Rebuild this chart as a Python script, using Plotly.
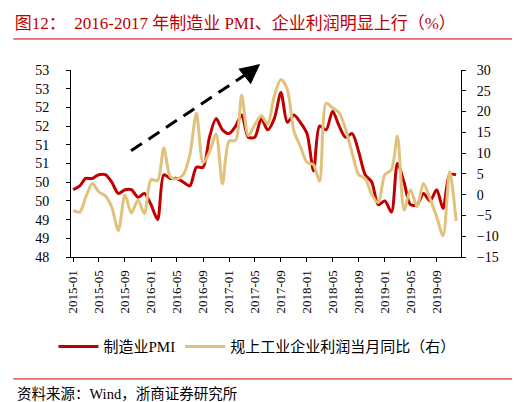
import plotly.graph_objects as go
import pandas as pd

months = pd.date_range("2015-01-01", "2019-12-01", freq="MS")

# 制造业PMI (left axis)
pmi = [49.8, 49.9, 50.1, 50.1, 50.2, 50.2, 50.0, 49.7, 49.8, 49.8, 49.6, 49.7,
       49.4, 49.0, 50.2, 50.1, 50.1, 50.0, 49.9, 50.4, 50.4, 51.2, 51.7, 51.4,
       51.3, 51.5, 51.8, 51.2, 51.2, 51.7, 51.4, 51.7, 52.4, 51.6, 51.8, 51.6,
       51.3, 50.3, 51.5, 51.4, 51.9, 51.5, 51.2, 51.3, 50.8, 50.2, 50.0, 49.4,
       49.5, 49.2, 50.5, 50.0, 49.4, 49.4, 49.7, 49.5, 49.8, 49.3, 50.2, 50.2]

# 规上工业企业利润当月同比 (right axis)
profit = [-3.8, -4.2, -0.6, 2.7, 0.7, -0.3, -3.0, -8.6, -0.1, -4.4, -1.3, -4.6,
          3.6, 3.4, 11.2, 4.3, 3.8, 4.9, 9.5, 19.6, 7.7, 10.2, 14.6, 2.6,
          12.9, 13.1, 23.9, 14.2, 16.8, 19.0, 17.0, 23.8, 27.7, 25.3, 15.3, 11.6,
          7.8, 7.2, 3.2, 22.0, 20.9, 19.7, 15.8, 10.0, 4.8, 3.9, 0.0, -1.9,
          4.8, 6.0, 14.1, -3.7, 1.2, -2.9, 2.7, -1.0, -5.3, -9.9, 5.5, -6.3]

left_ticks = [48, 48.5, 49, 49.5, 50, 50.5, 51, 51.5, 52, 52.5, 53]
left_labels = ["48", "49", "49", "50", "50", "51", "51", "52", "52", "53", "53"]

RED = "#C00000"
GOLD = "#E0C27C"
FONT = "Liberation Serif, Noto Sans CJK SC"

fig = go.Figure()
fig.add_trace(go.Scatter(x=months, y=pmi, name="制造业PMI", mode="lines",
                         line=dict(color=RED, width=3, shape="spline", smoothing=0.8)))
fig.add_trace(go.Scatter(x=months, y=profit, name="规上工业企业利润当月同比（右）",
                         mode="lines", yaxis="y2",
                         line=dict(color=GOLD, width=3, shape="spline", smoothing=0.8)))

axis_common = dict(showgrid=False, zeroline=False, showline=True, linecolor="black",
                   linewidth=1, ticks="outside", ticklen=4, tickcolor="black",
                   tickfont=dict(size=14, color="black"))

fig.update_layout(
    width=520, height=402,
    margin=dict(l=63, r=67, t=62, b=153),
    plot_bgcolor="white", paper_bgcolor="white",
    font=dict(family=FONT, color="black"),
    title=dict(text="图12：  2016-2017 年制造业 PMI、企业利润明显上行（%）",
               font=dict(size=17, color=RED), x=0.013, xanchor="left",
               y=0.962, yanchor="middle"),
    xaxis=dict(axis_common, range=["2014-12-22", "2019-12-24"], type="date",
               tick0="2015-01-01", dtick="M4", tickformat="%Y-%m", tickangle=-90,
               tickfont=dict(size=13, color="black"), ticklabelstandoff=3),
    yaxis=dict(axis_common, range=[48, 53], tickvals=left_ticks, ticktext=left_labels,
               ticklabelstandoff=14),
    yaxis2=dict(axis_common, range=[-15, 30], dtick=5, overlaying="y", side="right",
                ticklabelstandoff=8),
    legend=dict(orientation="h", x=-0.045, y=-0.48, xanchor="left", yanchor="middle",
                font=dict(size=15), bgcolor="rgba(0,0,0,0)", itemwidth=40),
    showlegend=True,
)

# dashed trend arrow
fig.add_shape(type="line", xref="paper", yref="paper", x0=0.154, y0=0.568,
              x1=0.458, y1=0.99, line=dict(color="black", width=3, dash="13px,8px"))
fig.add_annotation(xref="paper", yref="paper", x=0.485, y=1.032, ax=-10, ay=8,
                   axref="pixel", ayref="pixel", text="", showarrow=True,
                   arrowhead=2, arrowsize=1.6, arrowwidth=2.5, arrowcolor="black")

# red rules under title and above source
fig.add_shape(type="line", xref="paper", yref="paper", x0=-0.148, x1=1.154,
              y0=1.166, y1=1.166, line=dict(color=RED, width=1))
fig.add_shape(type="line", xref="paper", yref="paper", x0=-0.148, x1=1.154,
              y0=-0.652, y1=-0.652, line=dict(color=RED, width=1))

fig.add_annotation(xref="paper", yref="paper", x=-0.143, y=-0.732, xanchor="left",
                   yanchor="middle", text="资料来源：Wind，浙商证券研究所",
                   showarrow=False, font=dict(size=14.5, color="black"))

fig.write_html("out.html")
